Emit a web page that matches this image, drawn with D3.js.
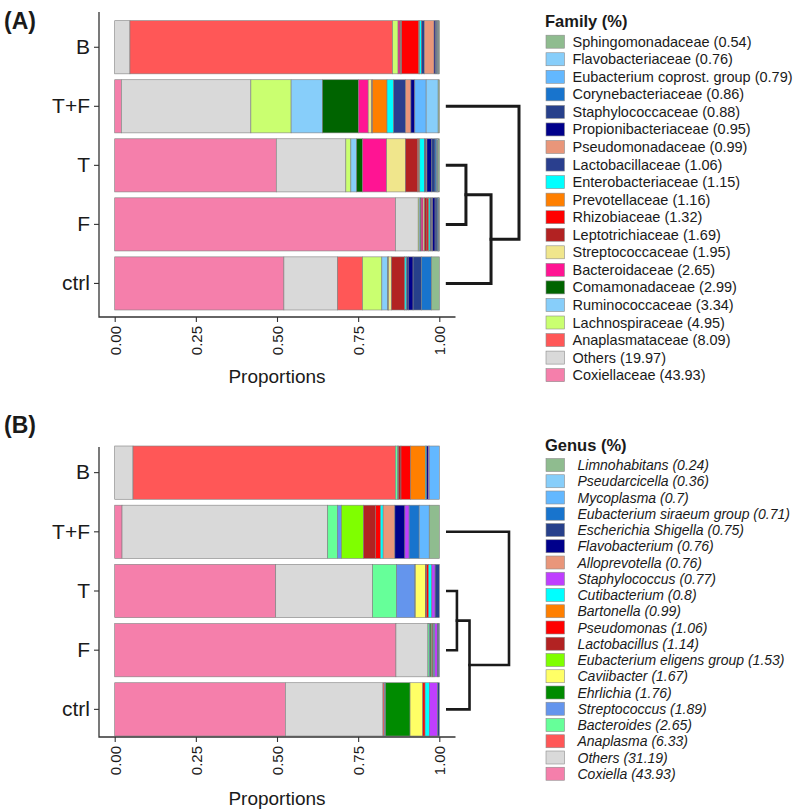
<!DOCTYPE html>
<html>
<head>
<meta charset="utf-8">
<script src="https://cdn.jsdelivr.net/npm/d3@7"></script>
<style>
  body { margin: 0; background: #fff; }
  text { font-family: "Liberation Sans", Arial, sans-serif; fill: #1a1a1a; }
</style>
</head>
<body>
<svg id="chart" width="797" height="810"></svg>
<script>
// ---- data ----
var samples = ["B", "T+F", "T", "F", "ctrl"]
var xTicks = [0, 0.25, 0.5, 0.75, 1]

// family legend, top to bottom
var familyNames = ["Sphingomonadaceae", "Flavobacteriaceae", "Eubacterium coprost. group", "Corynebacteriaceae",
  "Staphylococcaceae", "Propionibacteriaceae", "Pseudomonadaceae", "Lactobacillaceae", "Enterobacteriaceae",
  "Prevotellaceae", "Rhizobiaceae", "Leptotrichiaceae", "Streptococcaceae", "Bacteroidaceae", "Comamonadaceae",
  "Ruminococcaceae", "Lachnospiraceae", "Anaplasmataceae", "Others", "Coxiellaceae"]
var familyPct = ["0.54", "0.76", "0.79", "0.86", "0.88", "0.95", "0.99", "1.06", "1.15", "1.16", "1.32", "1.69",
  "1.95", "2.65", "2.99", "3.34", "4.95", "8.09", "19.97", "43.93"]
var familyColors = ["#8FBC8F", "#87CEFA", "#63B8FF", "#1874CD", "#27408B", "#00008B", "#E9967A", "#2A3F8E", "#00FFFF",
  "#FF7F00", "#FF0000", "#B22222", "#F0E68C", "#FF1493", "#006400", "#87CEFA", "#CAFF70", "#FF5757", "#D9D9D9", "#F57FAB"]

// family values per sample, left to right in the bar (Coxiellaceae ... Sphingomonadaceae)
var familyB    = [0, 0.047, 0.809, 0.017, 0, 0, 0.006, 0.002, 0.003, 0.053, 0.002, 0.006, 0.009, 0.030, 0.004, 0.004, 0.002, 0.002, 0.002, 0.002]
var familyTF   = [0.0205, 0.399, 0, 0.124, 0.0965, 0.111, 0.030, 0.011, 0.002, 0, 0.045, 0.0205, 0.037, 0.016, 0.012, 0, 0, 0.035, 0.037, 0.0035]
var familyT    = [0.496, 0.2135, 0, 0.0154, 0.018, 0.018, 0.074, 0.0575, 0.037, 0.004, 0.003, 0.014, 0.005, 0.003, 0.015, 0.010, 0.005, 0.002, 0.002, 0.004]
var familyF    = [0.8655, 0.070, 0, 0.003, 0.004, 0.002, 0.006, 0.004, 0.008, 0.004, 0.002, 0.004, 0.005, 0.002, 0.008, 0.006, 0.003, 0.002, 0.001, 0.001]
var familyCtrl = [0.5226, 0.166, 0.077, 0.0595, 0.0185, 0.001, 0.001, 0.009, 0.041, 0.001, 0, 0.005, 0.005, 0, 0.015, 0.026, 0.031, 0, 0, 0.024]

// genus legend, top to bottom
var genusNames = ["Limnohabitans", "Pseudarcicella", "Mycoplasma", "Eubacterium siraeum group", "Escherichia Shigella",
  "Flavobacterium", "Alloprevotella", "Staphylococcus", "Cutibacterium", "Bartonella", "Pseudomonas", "Lactobacillus",
  "Eubacterium eligens group", "Caviibacter", "Ehrlichia", "Streptococcus", "Bacteroides", "Anaplasma", "Others", "Coxiella"]
var genusPct = ["0.24", "0.36", "0.7", "0.71", "0.75", "0.76", "0.76", "0.77", "0.8", "0.99", "1.06", "1.14", "1.53",
  "1.67", "1.76", "1.89", "2.65", "6.33", "31.19", "43.93"]
var genusColors = ["#8FBC8F", "#87CEFA", "#63B8FF", "#1874CD", "#27408B", "#00008B", "#E9967A", "#BF3EFF", "#00FFFF",
  "#FF7F00", "#FF0000", "#B22222", "#7FFF00", "#FFFF66", "#008B00", "#6495ED", "#66FF99", "#FF5757", "#D9D9D9", "#F57FAB"]

// order of the genus segments inside a bar, left to right
var genusStack = ["Coxiella", "Others", "Anaplasma", "Bacteroides", "Streptococcus", "Ehrlichia", "Caviibacter",
  "Eubacterium eligens group", "Lactobacillus", "Pseudomonas", "Bartonella", "Cutibacterium", "Alloprevotella",
  "Flavobacterium", "Staphylococcus", "Escherichia Shigella", "Eubacterium siraeum group", "Mycoplasma",
  "Pseudarcicella", "Limnohabitans"]
var genusB    = [0, 0.0564, 0.808, 0.007, 0.002, 0, 0, 0, 0.008, 0.030, 0.045, 0.004, 0, 0.005, 0.003, 0, 0, 0.031, 0, 0]
var genusTF   = [0.0226, 0.634, 0, 0.030, 0.012, 0, 0, 0.068, 0.037, 0.016, 0, 0.008, 0.036, 0.031, 0.013, 0, 0.031, 0.031, 0, 0.031]
var genusT    = [0.496, 0.2985, 0, 0.074, 0.0564, 0.001, 0.031, 0, 0.004, 0.006, 0, 0.010, 0, 0, 0.010, 0.013, 0, 0, 0, 0]
var genusF    = [0.8656, 0.0985, 0, 0.004, 0.003, 0.004, 0.002, 0, 0.002, 0.002, 0, 0.004, 0, 0, 0.008, 0.004, 0.002, 0, 0, 0]
var genusCtrl = [0.523, 0.2995, 0.004, 0, 0.004, 0.075, 0.039, 0, 0, 0.007, 0, 0.013, 0, 0, 0.0256, 0.005, 0, 0, 0, 0]

// dendrograms (merge heights, relative)
var familyTree = [{a: "T", b: "F", h: 0.26}, {a: 0, b: "ctrl", h: 0.61}, {a: "T+F", b: 1, h: 1}]
var genusTree  = [{a: "T", b: "F", h: 0.156}, {a: 0, b: "ctrl", h: 0.36}, {a: "T+F", b: 1, h: 1}]

var svg = d3.select("#chart")

function draw_panel(p){
  var g = svg.append("g")
  var keys = p.stack
  var colorOf = d3.scaleOrdinal().domain(p.names).range(p.colors)

  var rows = samples.map(function(s, i){
    var row = {sample: s}
    keys.forEach(function(k, j){ row[k] = p.values[i][j] })
    return row
  })
  var series = d3.stack().keys(keys).offset(d3.stackOffsetExpand)(rows)

  var x = d3.scaleLinear().domain([0, 1]).range([114.7, 439.3])
  var y = d3.scaleBand().domain(samples).range([p.barTop, p.barBottom]).paddingInner(0.1).paddingOuter(0)

  // bars
  g.selectAll(".layer")
      .data(series)
      .enter()
      .append("g")
      .attr("fill", function(d){ return colorOf(d.key) })
      .selectAll("rect")
      .data(function(d){ return d })
      .enter()
      .append("rect")
      .attr("x", function(d){ return x(d[0]) })
      .attr("width", function(d){ return Math.max(0, x(d[1]) - x(d[0])) })
      .attr("y", function(d){ return y(d.data.sample) })
      .attr("height", y.bandwidth())
      .attr("stroke", "#7f7f7f")
      .attr("stroke-width", function(d){ return d[1] - d[0] > 0 ? 0.6 : 0 })

  // axes
  var axisColor = "#333"
  var yAxis = g.append("g")
      .attr("transform", "translate(99,0)")
      .call(d3.axisLeft(y).tickSize(5).tickPadding(4))
  yAxis.select(".domain").remove()
  yAxis.selectAll("line").attr("stroke", axisColor).attr("stroke-width", 1.1)
  yAxis.selectAll("text").attr("font-size", 21).attr("fill", "#1a1a1a")
      .style("font-family", "'Liberation Sans', Arial, sans-serif")

  var xAxis = g.append("g")
      .attr("transform", "translate(0," + p.axisBottom + ")")
      .call(d3.axisBottom(x).tickValues(xTicks).tickFormat(d3.format(".2f")).tickSize(5))
  xAxis.select(".domain").remove()
  xAxis.selectAll("line").attr("stroke", axisColor).attr("stroke-width", 1.1)
  xAxis.selectAll("text")
      .attr("font-size", 15)
      .attr("fill", "#1a1a1a")
      .style("font-family", "'Liberation Sans', Arial, sans-serif")
      .attr("text-anchor", "end")
      .attr("dy", null)
      .attr("transform", "translate(5.5,9) rotate(-90)")
      .attr("y", 0)
      .attr("x", 0)

  g.append("path")
      .attr("d", "M99," + p.axisTop + "V" + p.axisBottom + "H455.5")
      .attr("fill", "none")
      .attr("stroke", axisColor)
      .attr("stroke-width", 1.3)

  g.append("text")
      .attr("x", x(0.5))
      .attr("y", p.titleY)
      .attr("text-anchor", "middle")
      .attr("font-size", 19)
      .text("Proportions")

  g.append("text")
      .attr("x", 4)
      .attr("y", p.tagY)
      .attr("font-size", 23)
      .attr("font-weight", "bold")
      .text(p.tag)

  // dendrogram
  var hx = d3.scaleLinear().domain([0, 1]).range([447.3, p.treeRight])
  var nodes = []
  function pos(ref){
    if (typeof ref === "string") return {x: hx(0), y: y(ref) + y.bandwidth() / 2}
    return nodes[ref]
  }
  var tree = g.append("g")
      .attr("fill", "none")
      .attr("stroke", "#1a1a1a")
      .attr("stroke-width", p.treeWidth)
      .attr("stroke-linecap", "square")
  p.tree.forEach(function(m){
    var a = pos(m.a), b = pos(m.b), mx = hx(m.h)
    tree.append("path")
        .attr("d", "M" + a.x + "," + a.y + "H" + mx + "V" + b.y + "H" + b.x)
    nodes.push({x: mx, y: (a.y + b.y) / 2})
  })

  // legend
  var leg = g.append("g")
  leg.append("text")
      .attr("x", 545)
      .attr("y", p.legTop)
      .attr("font-size", 16.5)
      .attr("font-weight", "bold")
      .text(p.legTitle)
  var item = leg.selectAll(".item")
      .data(p.names)
      .enter()
      .append("g")
      .attr("class", "item")
      .attr("transform", function(d, i){
        return "translate(545," + (p.legFirst + i * p.legStep) + ")"
      })
  item.append("rect")
      .attr("x", 1)
      .attr("y", -6.5)
      .attr("width", 18.5)
      .attr("height", 13)
      .attr("fill", function(d){ return colorOf(d) })
      .attr("stroke", "#8c8c8c")
      .attr("stroke-width", 0.6)
  item.append("text")
      .attr("x", p.legTextX)
      .attr("y", 5)
      .attr("font-size", p.legFont)
      .attr("font-style", p.italic ? "italic" : null)
      .text(function(d, i){ return d + " (" + p.pct[i] + ")" })
}

draw_panel({
  tag: "(A)", tagY: 29,
  names: familyNames, colors: familyColors, pct: familyPct,
  stack: familyNames.slice().reverse(),
  values: [familyB, familyTF, familyT, familyF, familyCtrl],
  barTop: 20.7, barBottom: 310, axisTop: 12, axisBottom: 317,
  titleY: 383,
  tree: familyTree, treeRight: 519, treeWidth: 3,
  legTitle: "Family (%)", legTop: 27, legFirst: 41.7, legStep: 17.55, legTextX: 27.5, legFont: 14.5, italic: false
})

draw_panel({
  tag: "(B)", tagY: 433,
  names: genusNames, colors: genusColors, pct: genusPct,
  stack: genusStack,
  values: [genusB, genusTF, genusT, genusF, genusCtrl],
  barTop: 446, barBottom: 736, axisTop: 447, axisBottom: 737,
  titleY: 805,
  tree: genusTree, treeRight: 509, treeWidth: 2.6,
  legTitle: "Genus (%)", legTop: 451, legFirst: 465, legStep: 16.25, legTextX: 32.5, legFont: 14, italic: true
})
</script>
</body>
</html>
